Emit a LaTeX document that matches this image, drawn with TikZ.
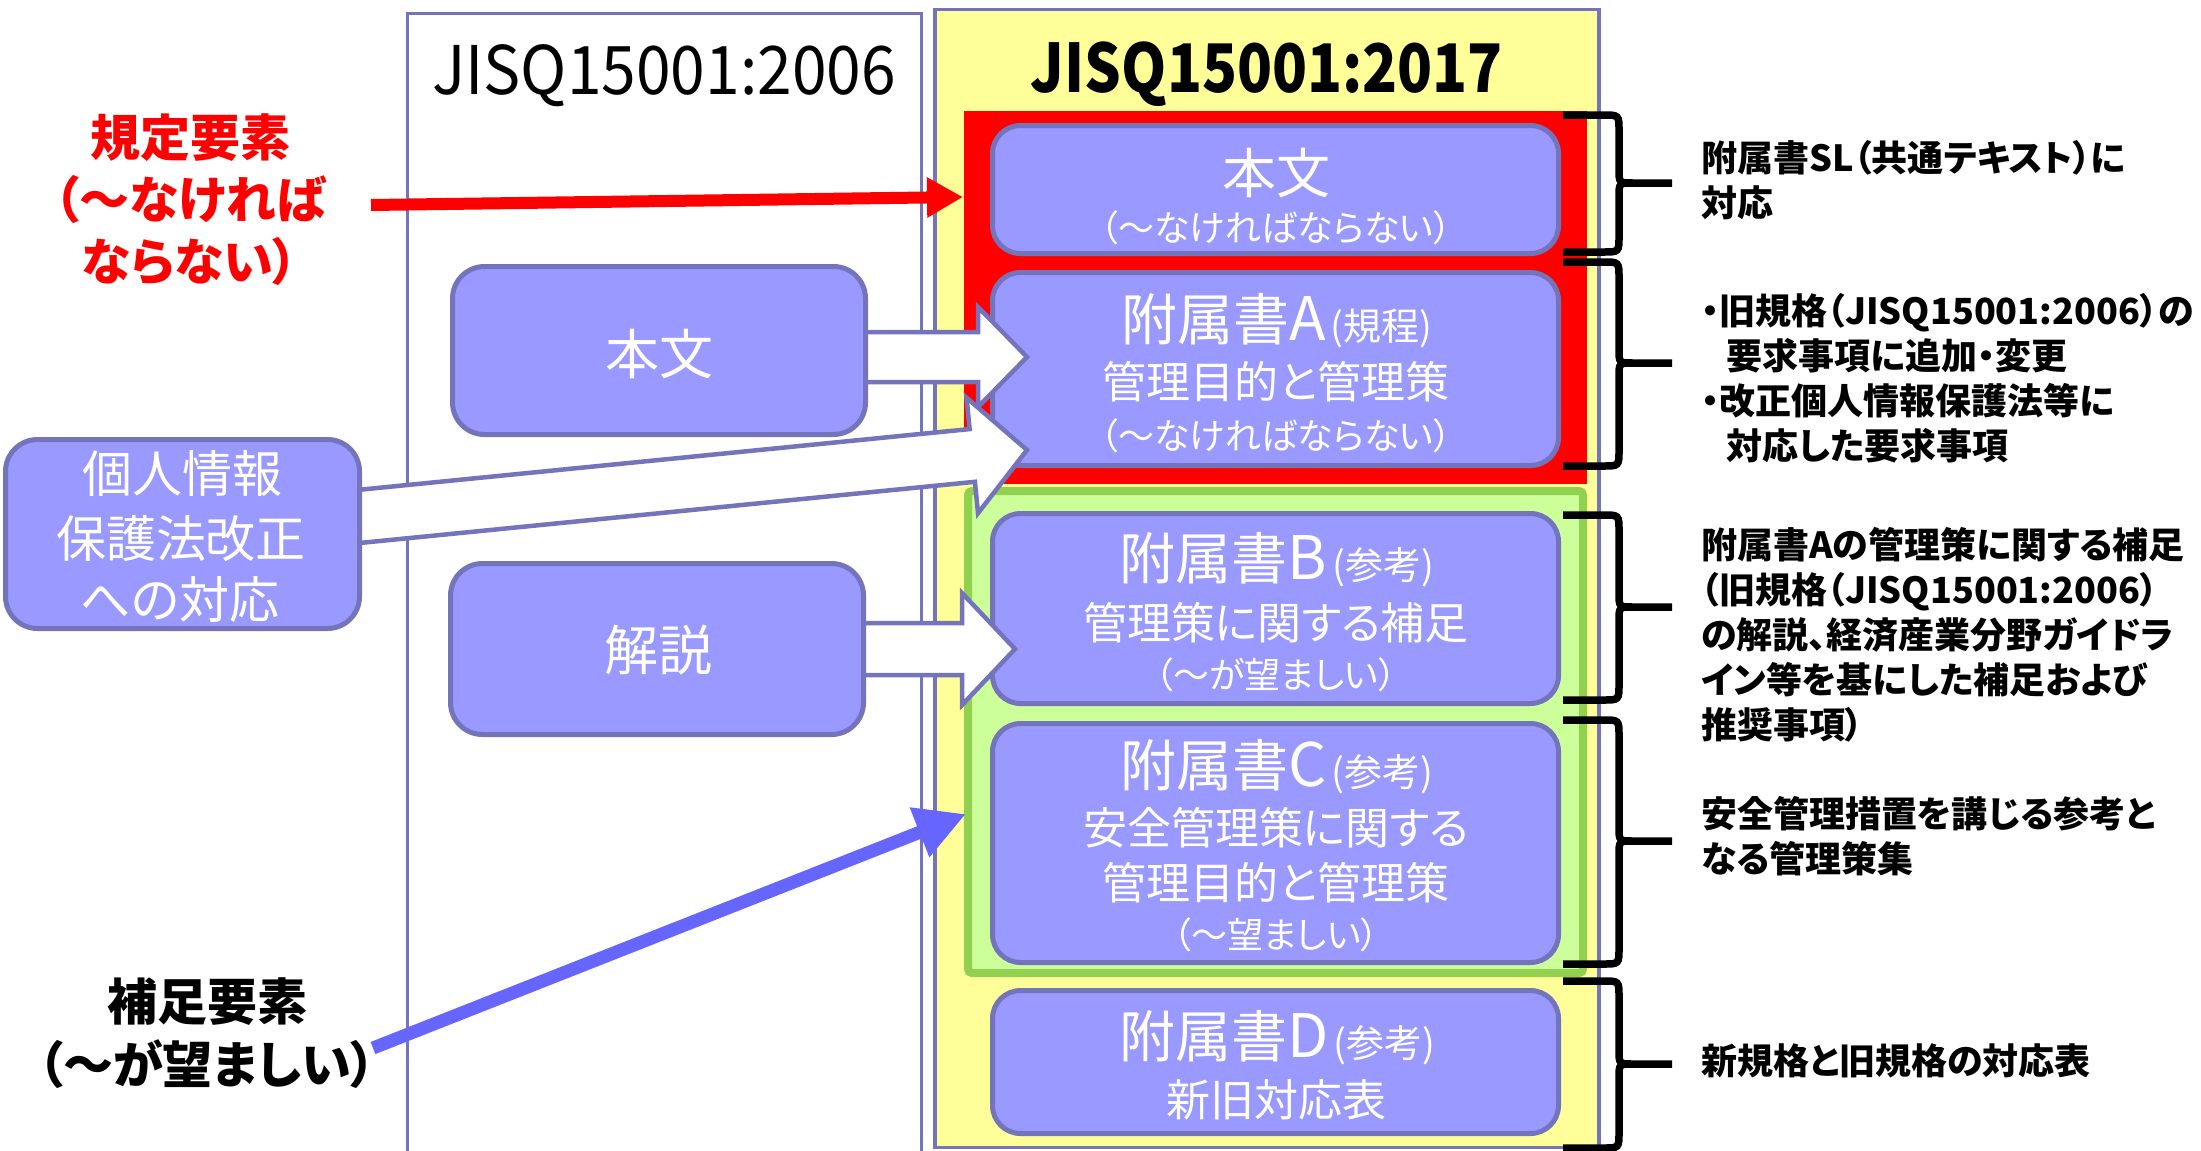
\documentclass[tikz,border=0pt]{standalone}
\usepackage{fontspec}
\setmainfont{Noto Sans CJK JP}[RawFeature={+palt}]
\usetikzlibrary{calc,arrows.meta}
\definecolor{bfill}{HTML}{9999FF}
\definecolor{bline}{HTML}{7474BC}
\definecolor{ylw}{HTML}{FFFF99}
\definecolor{gfill}{HTML}{CCFF99}
\definecolor{gline}{HTML}{92D050}
\definecolor{barrowc}{HTML}{6666FF}
\newcommand\fsz[1]{\fontsize{#1}{#1}\selectfont}
\newcommand\annexline[2]{{\fsz{56}附属書}{\fsz{60}#1}\kern5pt{\fsz{38}(#2)}}
\newcommand\blockarr[5]{%
  \coordinate (bh) at ($(#2)!#5!(#1)$);
  \draw[blockarrow] ($(#1)!#3!90:(#2)$) -- ($(bh)!#3!-90:(#1)$) -- ($(bh)!#4!-90:(#1)$) -- (#2) -- ($(bh)!#4!90:(#1)$) -- ($(bh)!#3!90:(#1)$) -- ($(#1)!#3!-90:(#2)$) -- cycle;}
\newcommand\rbr[3]{%
  \draw[bracestyle] (1563,#1) -- (1603,#1) .. controls (1619,#1) .. (1619,#1+16) -- (1619,#3-14) .. controls (1619,#3) .. (1633,#3) -- (1672,#3) -- (1633,#3) .. controls (1619,#3) .. (1619,#3+14) -- (1619,#2-16) .. controls (1619,#2) .. (1603,#2) -- (1563,#2);}
\pgfdeclarelayer{back}
\pgfdeclarelayer{mid}
\pgfsetlayers{back,mid,main}
\begin{document}
\begin{tikzpicture}[x=1pt,y=-1pt,
  newbox/.style={draw=bline, fill=bfill, line width=5pt, rounded corners=28pt, minimum width=566pt, inner sep=0pt},
  oldbox/.style={draw=bline, fill=bfill, line width=5pt, rounded corners=32pt, inner sep=0pt},
  blockarrow/.style={draw=bline, fill=white, line width=4.5pt, line join=miter},
  bracestyle/.style={draw=black, line width=7.5pt},
  wt/.style={text=white, inner sep=0pt},
  rt/.style={anchor=north west, align=left, inner sep=0pt, font=\fontsize{36}{45}\selectfont\bfseries},
  title/.style={inner sep=0pt, font=\fsz{67}}]
\useasboundingbox (0,0) rectangle (2201,1151);
\begin{pgfonlayer}{back}
  \draw[bline, line width=3pt] (407,1170) -- (407,13) -- (921,13) -- (921,1170);
  \node[draw=bline, line width=3.5pt, fill=ylw, minimum width=664pt, minimum height=1138pt, inner sep=0pt] (col17) at (1267,578.5) {};
  \node[fill=red, minimum width=623pt, minimum height=373pt, inner sep=0pt] (redreg) at (1275.5,297.5) {};
  \node[draw=gline, fill=gfill, line width=8pt, rounded corners=4pt, minimum width=615pt, minimum height=482pt, inner sep=0pt] (greenreg) at (1275.5,732) {};
  \node[newbox, minimum height=128pt] (nb0) at (1275.5,189.5) {};
  \node[newbox, minimum height=193pt] (nbA) at (1275.5,369) {};
  \node[newbox, minimum height=190pt] (nbB) at (1275.5,608.5) {};
  \node[newbox, minimum height=239pt] (nbC) at (1275.5,843) {};
  \node[newbox, minimum height=143pt] (nbD) at (1275.5,1062) {};
\end{pgfonlayer}
% titles
\node[title] (t06) at (664,76) {\scalebox{0.93}[1]{JISQ15001:2006}};
\node[title, font=\fsz{67}\bfseries] (t17) at (1267,74) {\scalebox{0.86}[1]{JISQ15001:2017}};
% old boxes
\node[oldbox, minimum width=413pt, minimum height=168pt] (ob1) at (659,350.5) {};
\node[oldbox, minimum width=413pt, minimum height=171pt] (ob2) at (657,649) {};
\node[oldbox, minimum width=354pt, minimum height=189pt] (ob3) at (182.5,534) {};
% block arrows
\begin{pgfonlayer}{mid}
  \coordinate (a1t) at (1027,357);
  \coordinate (a1s) at (ob1.center |- a1t);
  \blockarr{a1s}{a1t}{25pt}{50pt}{49pt}
  \coordinate (a2t) at (1027,450);
  \coordinate (a2s) at (ob3.center);
  \blockarr{a2s}{a2t}{26.5pt}{58pt}{55pt}
  \coordinate (a3t) at (1015,649);
  \coordinate (a3s) at (ob2.center |- a3t);
  \blockarr{a3s}{a3t}{26pt}{56pt}{53pt}
\end{pgfonlayer}
% old box texts
\node[wt, font=\fsz{54}] (ob1t) at (659,354) {本文};
\node[wt, font=\fsz{54}] (ob2t) at (658,650) {解説};
\node[wt, font=\fsz{50}] (ob3a) at (182,474) {個人情報};
\node[wt, font=\fsz{50}] (ob3b) at (181,539) {保護法改正};
\node[wt, font=\fsz{50}] (ob3c) at (180,599) {への対応};
% new box texts
\node[wt, font=\fsz{54}] (nb0a) at (1276,173) {本文};
\node[wt, font=\fsz{36}] (nb0b) at (1276,228) {（～なければならない）};
\node[wt] (nbAa) at (1277,321) {\annexline{A}{規程}};
\node[wt, font=\fsz{44}] (nbAb) at (1276,382) {管理目的と管理策};
\node[wt, font=\fsz{36}] (nbAc) at (1276,436) {（～なければならない）};
\node[wt] (nbBa) at (1277,560) {\annexline{B}{参考}};
\node[wt, font=\fsz{44}] (nbBb) at (1276,623) {管理策に関する補足};
\node[wt, font=\fsz{36}] (nbBc) at (1276,675) {（～が望ましい）};
\node[wt] (nbCa) at (1277,767) {\annexline{C}{参考}};
\node[wt, font=\fsz{44}] (nbCb) at (1276,828) {安全管理策に関する};
\node[wt, font=\fsz{44}] (nbCc) at (1276,883) {管理目的と管理策};
\node[wt, font=\fsz{36}] (nbCd) at (1276,935) {（～望ましい）};
\node[wt] (nbDa) at (1277,1038) {\annexline{D}{参考}};
\node[wt, font=\fsz{44}] (nbDb) at (1276,1100) {新旧対応表};
% left labels
\node[anchor=north, align=center, inner sep=0pt, text=red, font=\fontsize{50}{62}\selectfont\bfseries] (lred) at (190,113) {規定要素\\（～なければ\\ならない）};
\node[anchor=north, align=center, inner sep=0pt, font=\fontsize{50}{63}\selectfont\bfseries] (lblue) at (207,977) {補足要素\\（～が望ましい）};
\coordinate (ra0) at (371,205);
\coordinate (ra1) at (963,197);
\draw[red, line width=12pt, -{Triangle[length=36pt,width=38pt]}] (ra0) -- (ra1);
\coordinate (ba0) at (373,1048);
\coordinate (ba1) at (966,814);
\draw[barrowc, line width=13pt, -{Triangle[length=50pt,width=50pt]}] (ba0) -- (ba1);
% braces
\rbr{115}{252}{183}
\rbr{262}{466}{363}
\rbr{515}{700}{607}
\rbr{720}{964}{841}
\rbr{981}{1148}{1064}
% right texts
\node[rt] (r1) at (1701,140) {附属書SL（共通テキスト）に\\対応};
\node[rt] (r2) at (1701,293) {・旧規格（JISQ15001:2006）の\\\hspace*{25pt}要求事項に追加・変更\\・改正個人情報保護法等に\\\hspace*{25pt}対応した要求事項};
\node[rt] (r3) at (1701,527) {附属書Aの管理策に関する補足\\（旧規格（JISQ15001:2006）\\の解説、経済産業分野ガイドラ\\イン等を基にした補足および\\推奨事項）};
\node[rt] (r4) at (1701,796) {安全管理措置を講じる参考と\\なる管理策集};
\node[rt] (r5) at (1701,1043) {新規格と旧規格の対応表};
\end{tikzpicture}
\end{document}
